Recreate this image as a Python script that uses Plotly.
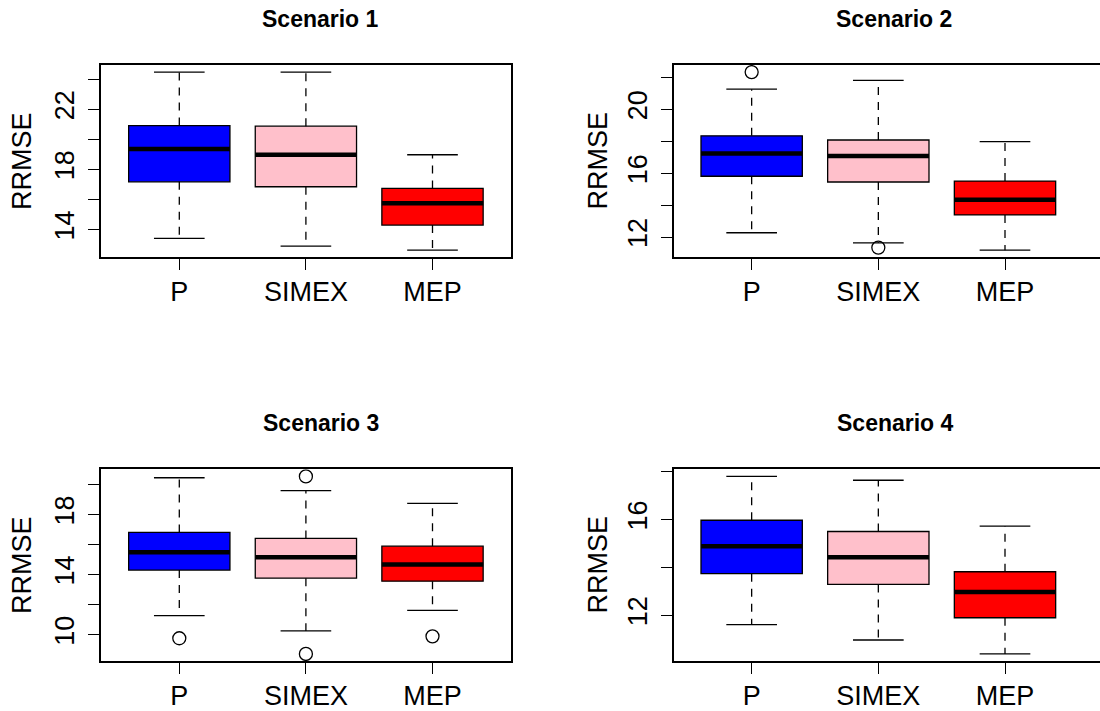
import plotly.graph_objects as go

# ---------------- data ----------------
GROUPS = ["P", "SIMEX", "MEP"]
COLORS = ["#0000FF", "#FFC0CB", "#FF0000"]
TITLES = ["Scenario 1", "Scenario 2", "Scenario 3", "Scenario 4"]

# per scenario: values for P, SIMEX, MEP
LOWER = [[13.40, 12.89, 12.62],
         [12.27, 11.64, 11.18],
         [11.26, 10.25, 11.62],
         [11.61, 10.97, 10.39]]
Q1 = [[17.17, 16.84, 14.29],
      [15.81, 15.45, 13.39],
      [14.30, 13.76, 13.56],
      [13.74, 13.29, 11.90]]
MEDIAN = [[19.35, 18.97, 15.75],
          [17.24, 17.07, 14.34],
          [15.48, 15.15, 14.66],
          [14.88, 14.42, 12.97]]
Q3 = [[20.91, 20.87, 16.73],
      [18.34, 18.08, 15.51],
      [16.80, 16.40, 15.89],
      [15.97, 15.50, 13.82]]
UPPER = [[24.47, 24.47, 18.97],
         [21.26, 21.81, 17.98],
         [20.44, 19.58, 18.74],
         [17.80, 17.64, 15.72]]
# outliers: group index and value
OUT_GROUP = [[], [1, 2], [1, 2, 2, 3], []]
OUT_VALUE = [[], [22.33, 11.34], [9.76, 20.53, 8.72, 9.89], []]

# y-axis ticks and which ones carry labels
YTICKS = [[14, 16, 18, 20, 22, 24],
          [12, 14, 16, 18, 20, 22],
          [10, 12, 14, 16, 18, 20],
          [12, 14, 16, 18]]
YLABELED = [[14, 18, 22],
            [12, 16, 20],
            [10, 14, 18],
            [12, 16]]

# ---------------- layout geometry (pixels) ----------------
W, H = 1100, 711
FONT = "Liberation Sans, Arial, Helvetica, sans-serif"
XDOM_PX = [(100.8, 511.0), (673.5, 1100.0), (100.8, 511.0), (673.5, 1100.0)]
YDOM_PX = [(65.0, 257.3), (65.0, 257.3), (469.3, 661.0), (469.3, 661.0)]
XRANGES = [(0.38, 3.62), (0.383, 3.75), (0.38, 3.62), (0.383, 3.75)]
TITLE_POS = [(320.7, 18.5), (894.0, 18.5), (320.7, 423.0), (895.0, 423.0)]
YLAB_POS = [(22.0, 161.0), (597.5, 161.0), (22.0, 565.0), (597.5, 565.0)]

fig = go.Figure()
layout = dict(
    width=W, height=H,
    margin=dict(l=0, r=0, t=0, b=0),
    paper_bgcolor="white", plot_bgcolor="white",
    showlegend=False,
    barmode="overlay",
    annotations=[],
)

for k in range(4):
    xa = "x" if k == 0 else f"x{k+1}"
    ya = "y" if k == 0 else f"y{k+1}"
    pos = [1, 2, 3]

    # whiskers (dashed)
    wx, wy = [], []
    for i, p in enumerate(pos):
        wx += [p, p, None, p, p, None]
        wy += [Q3[k][i], UPPER[k][i], None, Q1[k][i], LOWER[k][i], None]
    fig.add_trace(go.Scatter(x=wx, y=wy, mode="lines", xaxis=xa, yaxis=ya,
                             line=dict(color="black", width=1.3, dash="8px,7px"),
                             hoverinfo="skip"))
    # staples
    sx, sy = [], []
    for i, p in enumerate(pos):
        sx += [p - 0.2, p + 0.2, None, p - 0.2, p + 0.2, None]
        sy += [UPPER[k][i], UPPER[k][i], None, LOWER[k][i], LOWER[k][i], None]
    fig.add_trace(go.Scatter(x=sx, y=sy, mode="lines", xaxis=xa, yaxis=ya,
                             line=dict(color="black", width=1.3),
                             hoverinfo="skip"))
    # boxes
    fig.add_trace(go.Bar(x=pos, base=Q1[k],
                         y=[Q3[k][i] - Q1[k][i] for i in range(3)],
                         width=0.8, xaxis=xa, yaxis=ya,
                         marker=dict(color=COLORS,
                                     line=dict(color="black", width=1.3))))
    # medians
    mx, my = [], []
    for i, p in enumerate(pos):
        mx += [p - 0.4, p + 0.4, None]
        my += [MEDIAN[k][i], MEDIAN[k][i], None]
    fig.add_trace(go.Scatter(x=mx, y=my, mode="lines", xaxis=xa, yaxis=ya,
                             line=dict(color="black", width=4.5),
                             hoverinfo="skip"))
    # outliers
    if OUT_VALUE[k]:
        fig.add_trace(go.Scatter(x=OUT_GROUP[k], y=OUT_VALUE[k], mode="markers",
                                 xaxis=xa, yaxis=ya,
                                 marker=dict(symbol="circle-open", size=13,
                                             color="black", line=dict(width=1.3))))

    # y range like R: data range extended by 4%
    allv = LOWER[k] + UPPER[k] + OUT_VALUE[k]
    lo, hi = min(allv), max(allv)
    pad = 0.04 * (hi - lo)

    x0, x1 = XDOM_PX[k]
    yt, yb = YDOM_PX[k]
    right_side = k in (1, 3)
    layout["xaxis" if k == 0 else f"xaxis{k+1}"] = dict(
        domain=[x0 / W, x1 / W], range=list(XRANGES[k]),
        anchor=ya, tickvals=pos, ticktext=GROUPS,
        ticks="outside", ticklen=11, tickwidth=1.3, tickcolor="black",
        showgrid=False, zeroline=False,
        showline=True, mirror=True, linecolor="black", linewidth=1.5,
        tickfont=dict(family=FONT, size=27, color="black"),
        ticklabelstandoff=-1,
    )
    layout["yaxis" if k == 0 else f"yaxis{k+1}"] = dict(
        domain=[1 - yb / H, 1 - yt / H], range=[lo - pad, hi + pad],
        anchor=xa, tickvals=YTICKS[k],
        ticktext=[str(v) if v in YLABELED[k] else "" for v in YTICKS[k]],
        tickangle=-90,
        ticks="outside", ticklen=11, tickwidth=1.3, tickcolor="black",
        showgrid=False, zeroline=False,
        showline=True, mirror=(not right_side), linecolor="black", linewidth=1.5,
        tickfont=dict(family=FONT, size=27, color="black"),
        ticklabelstandoff=3,
    )

    tx, ty = TITLE_POS[k]
    layout["annotations"].append(dict(
        text="<b>" + TITLES[k] + "</b>", x=tx / W, y=1 - ty / H,
        xref="paper", yref="paper", xanchor="center", yanchor="middle",
        showarrow=False, font=dict(family=FONT, size=23, color="black")))
    lx, ly = YLAB_POS[k]
    layout["annotations"].append(dict(
        text="RRMSE", x=lx / W, y=1 - ly / H, textangle=-90,
        xref="paper", yref="paper", xanchor="center", yanchor="middle",
        showarrow=False, font=dict(family=FONT, size=27, color="black")))

fig.update_layout(**layout)
# remove the browser's default page margin so the figure sits at (0, 0)
fig.write_html("out.html",
               config={"displayModeBar": False},
               post_script="document.body.style.margin='0px';"
                           "document.body.style.overflow='hidden';")
